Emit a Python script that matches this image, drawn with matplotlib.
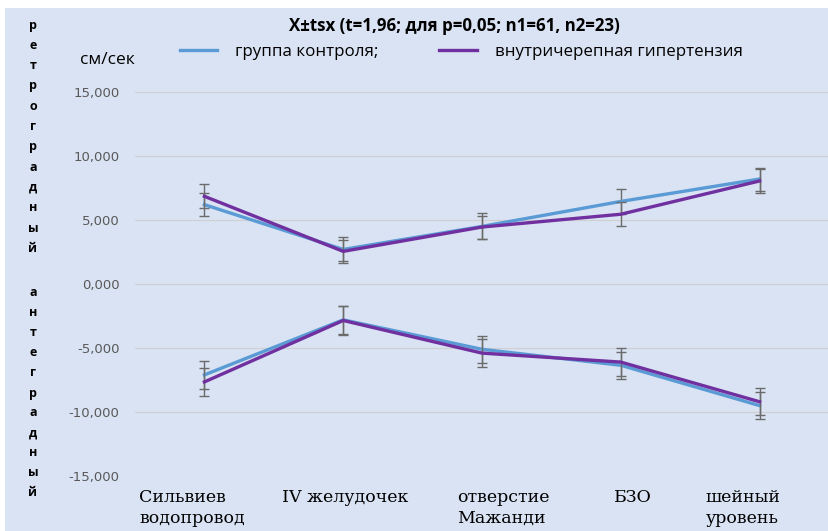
import matplotlib
matplotlib.use("Agg")
import matplotlib.pyplot as plt
import matplotlib.transforms as mtransforms
from matplotlib.patches import Rectangle

# ---- data (cm/s) ----
categories = ["Сильвиев\nводопровод", "IV желудочек", "отверстие\nМажанди", "БЗО", "шейный\nуровень"]

retro_control = [6.2, 2.7, 4.5, 6.45, 8.2]
retro_control_err = [0.92, 0.94, 1.02, 0.97, 0.9]
retro_ich = [6.85, 2.55, 4.45, 5.45, 8.05]
retro_ich_err = [0.95, 0.9, 0.9, 0.94, 0.95]

ante_control = [-7.1, -2.8, -5.1, -6.35, -9.5]
ante_control_err = [1.08, 1.1, 1.07, 1.07, 1.08]
ante_ich = [-7.65, -2.85, -5.4, -6.1, -9.2]
ante_ich_err = [1.1, 1.1, 1.07, 1.1, 1.05]

y_ticks = [-15, -10, -5, 0, 5, 10, 15]
series_names = ["группа контроля;", "внутричерепная гипертензия"]
title = "X±tsx (t=1,96; для p=0,05; n1=61, n2=23)"
units = "см/сек"
side_top = "ретроградный"
side_bottom = "антеградный"

# label placement tweaks (in category units)
label_offsets = [-0.47, -0.44, -0.18, -0.05, -0.39]

BG = "#dae3f3"
BLUE = "#5b9bd5"
PURPLE = "#7030a0"
ERR = "#6b6b6b"

W, H = 829, 531
fig = plt.figure(figsize=(W / 100, H / 100), dpi=100)
fig.patch.set_facecolor("white")
fig.add_artist(Rectangle((5 / W, 0), 1 - 5 / W, 1 - 8 / H, transform=fig.transFigure,
                         facecolor=BG, edgecolor="none", zorder=-10))

ax = fig.add_axes([135 / W, (H - 476) / H, 694 / W, 384 / H])
ax.set_facecolor("none")
x = list(range(len(categories)))

def draw(vals, errs, color, z):
    ax.errorbar(x, vals, yerr=errs, fmt="none", ecolor=ERR, elinewidth=1.0,
                capsize=3.6, capthick=1.0, zorder=z)
    line, = ax.plot(x, vals, color=color, lw=2.4, solid_joinstyle="miter", zorder=z + 1)
    return line

h1 = draw(retro_control, retro_control_err, BLUE, 3)
draw(ante_control, ante_control_err, BLUE, 3)
h2 = draw(retro_ich, retro_ich_err, PURPLE, 5)
draw(ante_ich, ante_ich_err, PURPLE, 5)

ax.set_xlim(-0.5, len(categories) - 0.5)
ax.set_ylim(-15, 15)
ax.set_yticks(y_ticks)
ax.set_yticklabels([f"{v:.3f}".replace(".", ",") for v in y_ticks],
                   fontsize=9.5, color="#595959", family="DejaVu Sans")
ax.tick_params(axis="y", length=0, pad=11)
ax.set_xticks([])
for s in ax.spines.values():
    s.set_visible(False)
ax.grid(axis="y", color="#d0d0d0", lw=0.8, zorder=0)
ax.set_axisbelow(True)

# category labels
tr = mtransforms.blended_transform_factory(ax.transData, fig.transFigure)
for i, (lab, off) in enumerate(zip(categories, label_offsets)):
    ax.text(i + off, 1 - 489 / H, lab, transform=tr, ha="left", va="top",
            fontsize=12.5, family="DejaVu Serif", linespacing=1.3, color="black")

# title, units, legend
fig.text(454 / W, 1 - 26 / H, title, ha="center", va="center",
         fontsize=12.2, fontweight="bold", family="Open Sans")
fig.text(80 / W, 1 - 60 / H, units, ha="left", va="center", fontsize=12.5, family="Open Sans")
fig.legend([h1, h2], series_names, loc="center left", bbox_to_anchor=(180 / W, 1 - 52 / H),
           ncol=2, frameon=False, prop={"family": "Open Sans", "size": 12.2},
           handlelength=2.2, handletextpad=1.05, columnspacing=3.6,
           borderpad=0, borderaxespad=0)

# vertical side caption
for i, ch in enumerate(side_top):
    fig.text(33 / W, 1 - (25 + i * 20.3) / H, ch, ha="center", va="center",
             fontsize=9, fontweight="bold", family="Open Sans")
for i, ch in enumerate(side_bottom):
    fig.text(33 / W, 1 - (293 + i * 20.0) / H, ch, ha="center", va="center",
             fontsize=9, fontweight="bold", family="Open Sans")

fig.savefig("out.png", dpi=100)
